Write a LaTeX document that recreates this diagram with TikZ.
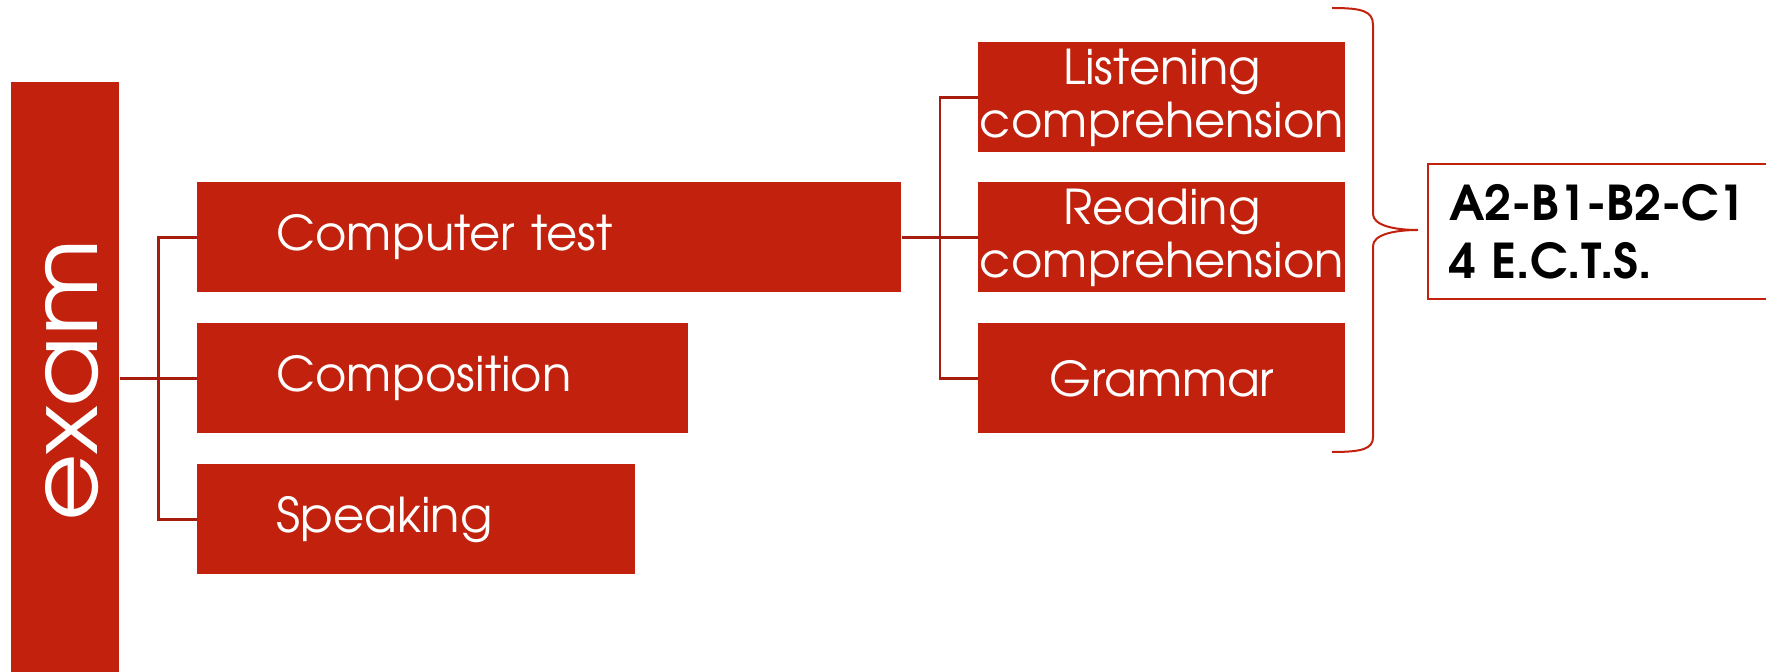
\documentclass[tikz,border=0pt]{standalone}
\usepackage{fontspec}
\setmainfont{TeX Gyre Adventor}
\usetikzlibrary{calc}
\definecolor{boxred}{RGB}{193,33,13}
\definecolor{linered}{RGB}{168,28,16}
\begin{document}
\begin{tikzpicture}[x=0.5pt,y=-0.5pt,
  redbox/.style={fill=boxred, draw=none, text=white, inner sep=0pt, anchor=north west,
    minimum height=55pt, font=\fontsize{24}{26.5}\selectfont},
  leftbox/.style={redbox, inner xsep=39.5pt, align=left},
  ctrbox/.style={redbox, align=center, minimum width=183.5pt},
  conn/.style={draw=linered, line width=1.3pt},
  bracepath/.style={draw=boxred, line width=1pt},
  ]
\useasboundingbox (0,0) rectangle (1766,672);
% left column
\node[redbox, minimum width=54pt, minimum height=297pt] (exam) at (11,82) {};
\node[text=white, rotate=90, font=\fontsize{46.5}{50}\selectfont, inner sep=0pt] (examtxt) at (72.5,380) {\scalebox{1.12}[1]{exam}};
% middle column
\node[leftbox, minimum width=352pt, text width=273pt] (ct) at (197,182) {Computer test};
\node[leftbox, minimum width=245.5pt, text width=166.5pt] (comp) at (197,323) {Composition};
\node[leftbox, minimum width=219pt, text width=140pt] (sp) at (197,464) {Speaking};
% right column
\node[ctrbox] (lc) at (978,42) {Listening\\comprehension};
\node[ctrbox] (rc) at (978,182) {Reading\\comprehension};
\node[ctrbox] (gr) at (978,323) {Grammar};
% result box
\node[draw=boxred, line width=1pt, fill=white, anchor=north west, minimum width=176.5pt,
  minimum height=67.5pt, inner xsep=10.5pt, text width=155.5pt, align=left,
  font=\bfseries\fontsize{24}{29}\selectfont] (lvl) at (1427,163) {A2-B1-B2-C1\\4 E.C.T.S.};
% connectors
\coordinate (j1) at ($(exam.east)!0.5!(comp.west)$);
\draw[conn] (exam.east |- comp.west) -- (comp.west);
\draw[conn] (ct.west) -| (j1) |- (sp.west);
\coordinate (j2) at ($(ct.east)!0.5!(rc.west)$);
\draw[conn] (ct.east) -- (rc.west);
\draw[conn] (lc.west) -| (j2) |- (gr.west);
% brace
\coordinate (bt) at (1332,8);
\coordinate (bb) at (1332,452);
\coordinate (tip) at (1418,230);
\draw[bracepath] (bt) .. controls (1362,8) and (1373,11) .. (1373,25) -- (1373,214)
  .. controls (1373,225) and (1393,230) .. (tip)
  .. controls (1393,230) and (1373,235) .. (1373,246) -- (1373,437)
  .. controls (1373,449) and (1362,452) .. (bb);
\end{tikzpicture}
\end{document}
